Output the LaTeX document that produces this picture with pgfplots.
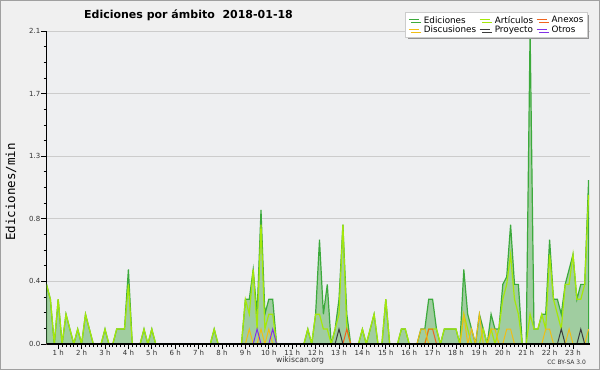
\documentclass[border=0pt]{standalone}
\usepackage{fontspec}
\setmainfont{DejaVu Sans}
\newfontfamily\ylabfont{DejaVu Sans Mono}
\usepackage{pgfplots}
\pgfplotsset{compat=1.18}
\usepackage{pgfplotstable}
\usetikzlibrary{shadows}

\definecolor{bgout}{RGB}{240,240,240}
\definecolor{plotbg}{RGB}{238,239,241}
\definecolor{framec}{RGB}{160,160,160}
\definecolor{gridc}{RGB}{204,204,204}
\definecolor{edline}{RGB}{60,170,60}
\definecolor{edfill}{RGB}{160,205,160}
\definecolor{artc}{RGB}{165,232,10}
\definecolor{discc}{RGB}{240,190,20}
\definecolor{anexc}{RGB}{240,100,30}
\definecolor{proyc}{RGB}{60,60,60}
\definecolor{otrosc}{RGB}{130,50,230}
\definecolor{labc}{RGB}{50,50,50}

% i = 10-minute step (label "1 h" at i=3)
\pgfplotstableread{
i ed art disc anex proy otros
0 0.4 0.4 0 0 0 0
1 0.3 0.3 0 0 0 0
2 0 0 0 0 0 0
3 0.3 0.3 0 0 0 0
4 0 0 0 0 0 0
5 0.2 0.2 0 0 0 0
6 0.1 0.1 0 0 0 0
7 0 0 0 0 0 0
8 0.1 0.1 0 0 0 0
9 0 0 0 0 0 0
10 0.2 0.2 0 0 0 0
11 0.1 0.1 0 0 0 0
12 0 0 0 0 0 0
13 0 0 0 0 0 0
14 0 0 0 0 0 0
15 0.1 0.1 0 0 0 0
16 0 0 0 0 0 0
17 0 0 0 0 0 0
18 0.1 0.1 0 0 0 0
19 0.1 0.1 0 0 0 0
20 0.1 0.1 0 0 0 0
21 0.5 0.4 0 0 0 0
22 0 0 0 0 0 0
23 0 0 0 0 0 0
24 0 0 0 0 0 0
25 0.1 0.1 0 0 0 0
26 0 0 0 0 0 0
27 0.1 0.1 0 0 0 0
28 0 0 0 0 0 0
29 0 0 0 0 0 0
30 0 0 0 0 0 0
31 0 0 0 0 0 0
32 0 0 0 0 0 0
33 0 0 0 0 0 0
34 0 0 0 0 0 0
35 0 0 0 0 0 0
36 0 0 0 0 0 0
37 0 0 0 0 0 0
38 0 0 0 0 0 0
39 0 0 0 0 0 0
40 0 0 0 0 0 0
41 0 0 0 0 0 0
42 0 0 0 0 0 0
43 0.1 0.1 0 0 0 0
44 0 0 0 0 0 0
45 0 0 0 0 0 0
46 0 0 0 0 0 0
47 0 0 0 0 0 0
48 0 0 0 0 0 0
49 0 0 0 0 0 0
50 0 0 0 0 0 0
51 0.3 0.3 0 0 0 0
52 0.3 0.2 0.1 0 0 0
53 0.5 0.5 0 0 0 0
54 0.2 0.1 0 0 0 0.1
55 0.9 0.8 0.1 0 0 0
56 0.2 0.1 0 0 0 0
57 0.3 0.2 0.1 0 0 0
58 0.3 0.2 0 0 0 0.1
59 0 0 0 0 0 0
60 0 0 0 0 0 0
61 0 0 0 0 0 0
62 0 0 0 0 0 0
63 0 0 0 0 0 0
64 0 0 0 0 0 0
65 0 0 0 0 0 0
66 0 0 0 0 0 0
67 0.1 0.1 0 0 0 0
68 0 0 0 0 0 0
69 0.2 0.2 0 0 0 0
70 0.7 0.2 0 0 0 0
71 0.2 0.1 0 0 0 0
72 0.4 0.1 0 0 0 0
73 0 0 0 0 0 0
74 0.1 0.1 0 0 0 0
75 0.3 0.2 0 0 0.1 0
76 0.8 0.8 0 0 0 0
77 0.2 0.1 0 0.1 0 0
78 0 0 0 0 0 0
79 0 0 0 0 0 0
80 0 0 0 0 0 0
81 0.1 0.1 0 0 0 0
82 0 0 0 0 0 0
83 0.1 0.1 0 0 0 0
84 0.2 0.2 0 0 0 0
85 0 0 0 0 0 0
86 0 0 0 0 0 0
87 0.3 0.3 0 0 0 0
88 0 0 0 0 0 0
89 0 0 0 0 0 0
90 0 0 0 0 0 0
91 0.1 0.1 0 0 0 0
92 0.1 0.1 0 0 0 0
93 0 0 0 0 0 0
94 0 0 0 0 0 0
95 0 0 0 0 0 0
96 0.1 0 0.1 0 0 0
97 0.1 0 0.1 0 0 0
98 0.3 0.1 0 0.1 0 0
99 0.3 0.1 0 0.1 0 0
100 0.1 0.1 0 0 0 0
101 0 0 0 0 0 0
102 0.1 0.1 0 0 0 0
103 0.1 0.1 0 0 0 0
104 0.1 0.1 0 0 0 0
105 0.1 0.1 0 0 0 0
106 0 0 0 0 0 0
107 0.5 0.2 0.2 0 0 0
108 0.2 0.1 0 0 0 0
109 0.1 0 0.1 0 0 0
110 0 0 0 0 0 0
111 0.2 0 0.2 0 0 0
112 0.1 0.1 0 0 0 0
113 0 0 0 0 0 0
114 0.2 0.1 0.1 0 0 0
115 0.1 0 0.1 0 0 0
116 0.1 0.1 0 0 0 0
117 0.4 0.3 0 0 0 0
118 0.45 0.4 0.1 0 0 0
119 0.8 0.6 0.1 0 0 0
120 0.4 0.3 0 0 0 0
121 0.4 0.2 0 0 0 0
122 0 0 0 0 0 0
123 0 0 0 0 0 0
124 2.1 0.2 0 0 0 0
125 0.1 0.1 0 0 0 0
126 0.1 0.1 0 0 0 0
127 0.2 0.2 0 0 0 0
128 0.2 0.1 0.1 0 0 0
129 0.7 0.6 0.1 0 0 0
130 0.3 0.3 0 0 0 0
131 0.3 0.2 0 0 0 0
132 0.2 0.1 0 0 0.1 0
133 0.4 0.4 0 0 0 0
134 0.5 0.4 0.1 0 0 0
135 0.6 0.6 0 0 0 0
136 0.3 0.3 0 0 0 0
137 0.4 0.3 0 0 0.1 0
138 0.4 0.4 0 0 0 0
139 1.1 1.0 0.1 0 0 0
}\datatable

\begin{document}
\begin{tikzpicture}[x=1pt,y=1pt]
\fill[bgout] (0,0) rectangle (600,370);
\draw[framec, line width=1pt] (0.5,0.5) rectangle (599.5,369.5);
\useasboundingbox (0,0) rectangle (600,370);
\begin{axis}[
  at={(46.5pt,26pt)}, anchor=south west,
  scale only axis, width=543.5pt, height=313pt,
  xmin=0, xmax=139.36, ymin=0, ymax=2.1,
  axis background/.style={fill=plotbg},
  axis x line*=bottom, axis y line*=left,
  axis line style={-, black, line width=1pt},
  xtick={3,9,...,135},
  xticklabels={1 h,2 h,3 h,4 h,5 h,6 h,7 h,8 h,9 h,10 h,11 h,12 h,13 h,14 h,15 h,16 h,17 h,18 h,19 h,20 h,21 h,22 h,23 h},
  minor x tick num=5,
  ytick={0,0.42,0.84,1.26,1.68,2.1},
  yticklabels={0.0,0.4,0.8,1.3,1.7,2.1},
  minor y tick num=3,
  tick align=outside,
  major tick length=5pt, minor tick length=3pt,
  tick style={black, line width=0.8pt},
  ymajorgrids, grid style={gridc, line width=0.8pt},
  xticklabel style={font=\fontsize{7}{8}\selectfont, text=labc, inner sep=1pt},
  yticklabel style={font=\fontsize{7}{8}\selectfont, text=labc, inner sep=1pt},
  legend columns=3,
  legend cell align=left,
  legend image code/.code={\draw[#1, fill=none] (0pt,0pt) -- (10pt,0pt);},
  legend style={at={(0.6596,1.0607)}, anchor=north west,
    fill=white, draw=gray!40, line width=0.4pt,
    drop shadow={shadow xshift=2.5pt, shadow yshift=-2.5pt, fill=gray!85, opacity=1},
    font=\fontsize{8.8}{9}\selectfont,
    inner xsep=3pt, inner ysep=3pt, row sep=1pt,
    nodes={inner xsep=0.5pt, inner ysep=1pt, text depth=0pt},
    /tikz/every odd column/.append style={column sep=4pt},
    /tikz/every even column/.append style={column sep=2.5pt}},
]
\addplot[draw=edline, line width=1.2pt, fill=edfill] table[x=i, y=ed] {\datatable} \closedcycle;
\addlegendentry{Ediciones}
\addplot[artc, line width=1.2pt] table[x=i, y=art] {\datatable};
\addlegendentry{Artículos}
\addplot[anexc, line width=1pt] table[x=i, y=anex] {\datatable};
\addlegendentry{Anexos}
\addplot[discc, line width=1pt] table[x=i, y=disc] {\datatable};
\addlegendentry{Discusiones}
\addplot[proyc, line width=1pt] table[x=i, y=proy] {\datatable};
\addlegendentry{Proyecto}
\addplot[otrosc, line width=1pt] table[x=i, y=otros] {\datatable};
\addlegendentry{Otros}
\draw[black, line width=1.2pt] (rel axis cs:0,0) -- (rel axis cs:1,0);
\draw[black, line width=1pt] (rel axis cs:0,0) -- (rel axis cs:0,1);
\end{axis}
\node[anchor=base, font=\fontsize{11}{12}\selectfont\bfseries, text=black] at (188.5,351.7) {Ediciones por ámbito\ \ 2018-01-18};
\node[rotate=90, anchor=center, font=\ylabfont\fontsize{12.5}{13}\selectfont, text=black] at (11,178) {Ediciones/min};
\node[anchor=base, font=\fontsize{7.7}{8}\selectfont, text=labc] at (300,7.3) {wikiscan.org};
\node[anchor=base east, font=\fontsize{6}{7}\selectfont, text=labc] at (589.5,6) {CC BY-SA 3.0};
\end{tikzpicture}
\end{document}
